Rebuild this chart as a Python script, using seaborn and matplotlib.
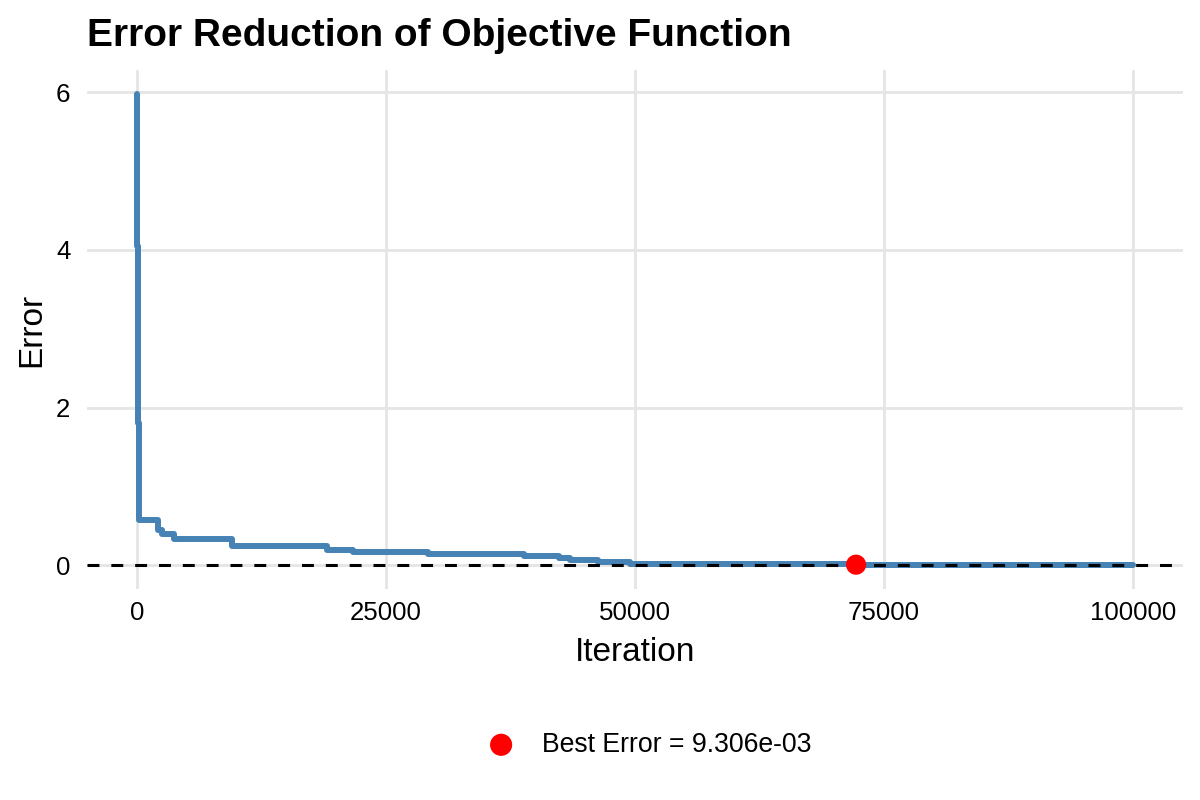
"""Curva de redução do erro da função objetivo"""

import matplotlib
matplotlib.use("Agg")
import matplotlib.pyplot as plt
import seaborn as sns
import pandas as pd

# melhor erro encontrado até cada iteração
iterations = [0, 20, 40, 60, 80, 100, 120, 150, 180, 210,
              2140, 2480, 3720, 9600, 19100, 21700, 29200, 38900,
              42400, 43500, 46300, 49500, 56500, 72190, 100000]
errors = [5.98, 5.95, 4.16, 4.05, 3.36, 3.20, 2.72, 1.80, 1.10, 0.571,
          0.453, 0.400, 0.330, 0.245, 0.199, 0.169, 0.150, 0.118,
          0.095, 0.070, 0.047, 0.021, 0.014, 0.009306, 0.009306]

best_iteration = 72190
best_error = 9.306e-03

x_ticks = [0, 25000, 50000, 75000, 100000]
y_ticks = [0, 2, 4, 6]

sns.set_theme(style="whitegrid")
plt.rcParams['font.family'] = ['Liberation Sans', 'DejaVu Sans']
plt.rcParams['text.color'] = "black"
plt.rcParams['axes.labelcolor'] = "black"

fig = plt.figure(figsize=(12, 8), dpi=100)
ax = fig.add_axes([0.0725, 0.26375, 0.9133, 0.64875])

df = pd.DataFrame({"Iteration": iterations, "Error": errors})
sns.lineplot(data=df, x="Iteration", y="Error", drawstyle="steps-post",
             color="steelblue", linewidth=4.3, ax=ax, zorder=2)
ax.axhline(0, color="black", linestyle=(0, (3.9, 3.9)), linewidth=2.2, zorder=3)
sns.scatterplot(x=[best_iteration], y=[best_error], color="red", s=210,
                edgecolor="none", ax=ax, zorder=4,
                label=f"Best Error = {best_error:.3e}")

ax.set_xlim(-5000, 105000)
ax.set_ylim(-0.299, 6.279)
ax.set_xticks(x_ticks)
ax.set_xticklabels([str(t) for t in x_ticks])
ax.set_yticks(y_ticks)

ax.grid(True, color="#E5E5E5", linewidth=2.0)
ax.set_axisbelow(True)
for s in ax.spines.values():
    s.set_visible(False)
ax.set_facecolor("white")
ax.tick_params(axis="x", length=0, pad=9, labelsize=18.6, labelcolor="black")
ax.tick_params(axis="y", length=0, pad=12, labelsize=18.6, labelcolor="black")

ax.set_title("Error Reduction of Objective Function", loc="left",
             fontsize=28, fontweight="bold", pad=17, color="black")
ax.set_xlabel("Iteration", fontsize=24, labelpad=8)
ax.set_ylabel("Error", fontsize=24, labelpad=6)

# legenda embaixo, fora do painel
handles, labels = ax.get_legend_handles_labels()
ax.get_legend().remove()
fig.legend(handles, labels, loc="center", bbox_to_anchor=(0.536, 0.069),
           frameon=False, fontsize=19.2, handletextpad=0.55, markerscale=1.1,
           labelcolor="black")

fig.savefig("out.png", dpi=100, facecolor="white")
